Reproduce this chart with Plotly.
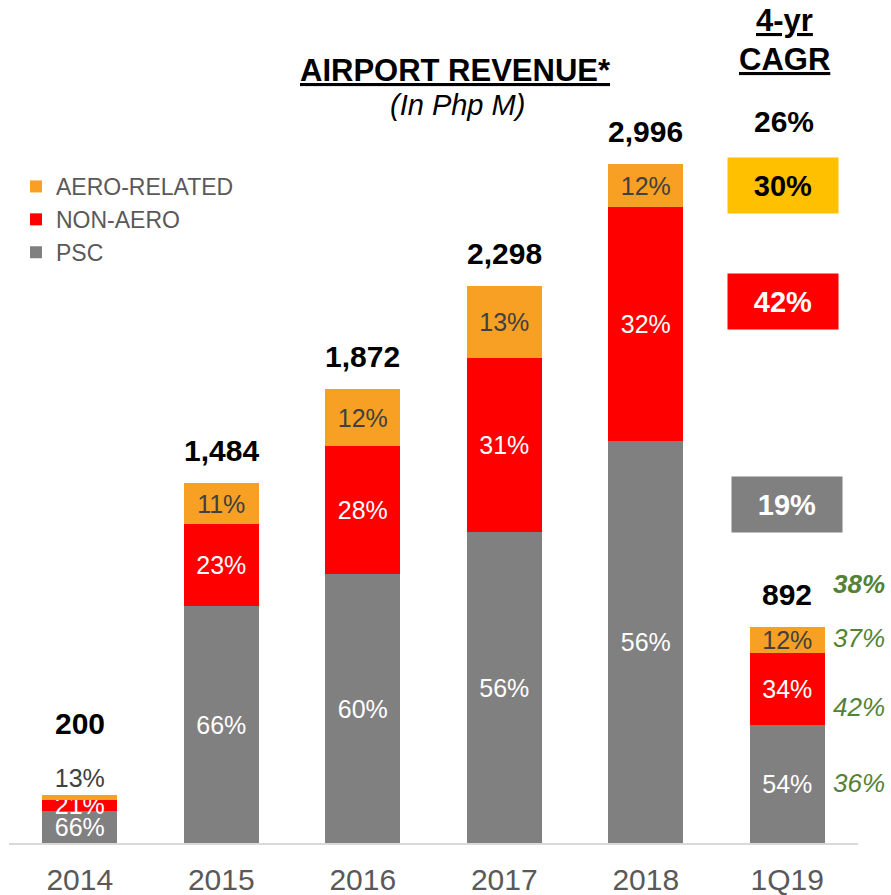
import plotly.graph_objects as go

categories = ["2014", "2015", "2016", "2017", "2018", "1Q19"]
psc = [133, 977, 1109, 1282, 1656, 487]
non_aero = [44, 338, 528, 719, 967, 298]
aero = [23, 168, 235, 296, 176, 107]
psc_pct = ["66%", "66%", "60%", "56%", "56%", "54%"]
non_aero_pct = ["21%", "23%", "28%", "31%", "32%", "34%"]
aero_pct = ["13%", "11%", "12%", "13%", "12%", "12%"]
total_labels = ["200", "1,484", "1,872", "2,298", "2,996", "892"]
cagr_total = "26%"
cagr_aero = "30%"
cagr_non_aero = "42%"
cagr_psc = "19%"
q1_growth = ["38%", "37%", "42%", "36%"]

FONT = "Liberation Sans, Arial, sans-serif"
ORANGE = "#F7A023"
RED = "#FF0000"
GRAY = "#808080"
GREEN = "#548235"

W, H = 891, 895
ML, MR, MT, MB = 9, 33, 0, 52
PW, PH = W - ML - MR, H - MT - MB


def px(x):
    return (x - ML) / PW


def py(y):
    return (H - MB - y) / PH


fig = go.Figure()
fig.add_trace(go.Bar(
    x=categories, y=psc, name="PSC", marker=dict(color=GRAY, line=dict(width=0)),
    text=psc_pct, textposition="inside", insidetextanchor="middle",
    textfont=dict(color="white", size=25, family=FONT),
))
fig.add_trace(go.Bar(
    x=categories, y=non_aero, name="NON-AERO", marker=dict(color=RED, line=dict(width=0)),
    text=non_aero_pct, textposition="inside", insidetextanchor="middle",
    textfont=dict(color="white", size=25, family=FONT),
))
fig.add_trace(go.Bar(
    x=categories, y=aero, name="AERO-RELATED", marker=dict(color=ORANGE, line=dict(width=0)),
    text=aero_pct, textposition=["outside"] + ["inside"] * (len(categories) - 1),
    insidetextanchor="middle",
    textfont=dict(color="#404040", size=25, family=FONT),
))

totals = [a + b + c for a, b, c in zip(psc, non_aero, aero)]
annotations = []
for i, (tot, lab) in enumerate(zip(totals, total_labels)):
    annotations.append(dict(
        x=i, y=tot, xref="x", yref="y", text=f"<b>{lab}</b>", showarrow=False,
        xanchor="center", yanchor="bottom", yshift=(53 if i == 0 else 14),
        font=dict(size=30, color="black", family=FONT),
    ))


def paper_note(text, x, y, size, color="black", **kw):
    d = dict(x=px(x), y=py(y), xref="paper", yref="paper", text=text, showarrow=False,
             xanchor="center", yanchor="middle", font=dict(size=size, color=color, family=FONT))
    d.update(kw)
    annotations.append(d)


# Title
paper_note("<b><u>AIRPORT REVENUE*</u></b>", 456, 71, 31)
paper_note("<i>(In Php M)</i>", 457, 105, 29)
# CAGR header
paper_note("<b><u>4-yr</u></b>", 784, 20, 31)
paper_note("<b><u>CAGR</u></b>", 784, 60, 31)
paper_note(f"<b>{cagr_total}</b>", 784, 122, 30)
for txt, cx, cy, bg, fc in [(cagr_aero, 783, 186, "#FFC000", "black"),
                            (cagr_non_aero, 783, 302, RED, "white"),
                            (cagr_psc, 787, 505, GRAY, "white")]:
    paper_note(f"<b>{txt}</b>", cx, cy, 29, fc, width=110, height=55, bgcolor=bg,
               borderpad=0, valign="middle")
# 1Q19 growth labels
for j, (txt, cy) in enumerate(zip(q1_growth, [584, 638, 707, 783])):
    t = f"<b><i>{txt}</i></b>" if j == 0 else f"<i>{txt}</i>"
    paper_note(t, 859, cy, 26, GREEN)

fig.update_layout(
    template="none",
    width=W, height=H,
    margin=dict(l=ML, r=MR, t=MT, b=MB, pad=0, autoexpand=False),
    barmode="stack", bargap=0.47,
    plot_bgcolor="white", paper_bgcolor="white",
    showlegend=True,
    legend=dict(x=px(16), y=py(165), xanchor="left", yanchor="top",
                traceorder="reversed", itemwidth=30,
                font=dict(size=23, color="#595959", family=FONT),
                bgcolor="rgba(0,0,0,0)", tracegroupgap=0),
    annotations=annotations,
    font=dict(family=FONT),
)
fig.update_traces(constraintext="none", cliponaxis=False)
fig.update_xaxes(showline=True, linecolor="#D9D9D9", linewidth=2, ticks="",
                 automargin=False, type="category", ticklabelstandoff=9,
                 tickfont=dict(size=30, color="#595959", family=FONT),
                 showgrid=False, zeroline=False, range=[-0.5, 5.5])
fig.update_yaxes(visible=False, automargin=False, range=[0, PH / 0.2425],
                 showgrid=False, zeroline=False)

fig.write_html("out.html", config={"displayModeBar": False},
               post_script="document.body.style.margin='0';document.body.style.overflow='hidden';")
